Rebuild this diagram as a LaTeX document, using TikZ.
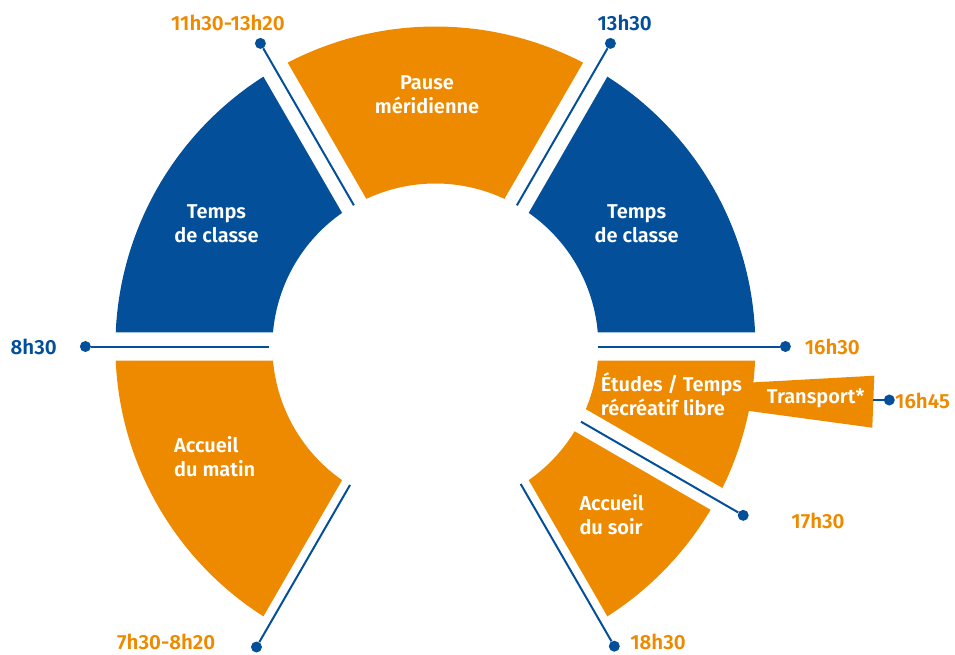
\documentclass[tikz,border=0pt]{standalone}
\usepackage{fontspec}
\setmainfont{Fira Sans}[BoldFont={Fira Sans SemiBold}]
\usetikzlibrary{calc}
\definecolor{bleuecole}{HTML}{034F9A}
\definecolor{orangeecole}{HTML}{EE8A00}
\tikzset{
  point/.style={circle, fill=bleuecole, inner sep=0pt, minimum size=11pt},
  trait/.style={draw=bleuecole, line width=2pt},
  etiquette/.style={text=white, inner sep=0pt, font=\bfseries\fontsize{20}{24}\selectfont, align=center},
  heure/.style={inner sep=0pt, font=\bfseries\fontsize{20.5}{22}\selectfont},
}
\begin{document}
\begin{tikzpicture}[x=1pt, y=1pt]
\useasboundingbox (-435.4,-307.5) rectangle (519.6,346.5);
% secteurs de l'anneau
\fill[bleuecole] (122.51:320) arc[start angle=122.51, end angle=177.49, radius=320] -- (175.07:163) arc[start angle=175.07, end angle=124.93, radius=163] -- cycle;
\fill[orangeecole] (62.51:320) arc[start angle=62.51, end angle=117.49, radius=320] -- (115.07:163) arc[start angle=115.07, end angle=64.93, radius=163] -- cycle;
\fill[bleuecole] (2.51:320) arc[start angle=2.51, end angle=57.49, radius=320] -- (55.07:163) arc[start angle=55.07, end angle=4.93, radius=163] -- cycle;
\fill[orangeecole] (182.51:320) arc[start angle=182.51, end angle=237.49, radius=320] -- (235.07:163) arc[start angle=235.07, end angle=184.93, radius=163] -- cycle;
\fill[orangeecole] (-26.24:320) arc[start angle=-26.24, end angle=-2.51, radius=320] -- (-4.93:163) arc[start angle=-4.93, end angle=-22.60, radius=163] -- cycle;
\fill[orangeecole] (-57.49:320) arc[start angle=-57.49, end angle=-30.68, radius=320] -- (-31.34:163) arc[start angle=-31.34, end angle=-55.07, radius=163] -- cycle;
% transport
\fill[orangeecole] (304.6,-36.6) -- (438.9,-29.2) -- (436.9,-81.2) -- (304.6,-63.2) -- cycle;
% textes des secteurs
\node[etiquette] (classe1) at (-218.9,122.5) {Temps\\de classe};
\node[etiquette] (pause) at (-8.4,252) {Pause\\méridienne};
\node[etiquette] (classe2) at (201.3,122.5) {Temps\\de classe};
\node[etiquette, anchor=west, align=left] (matin) at (-261.4,-109.8) {Accueil\\du matin};
\node[etiquette, anchor=west, align=left] (etudes) at (165.3,-48) {Études / Temps\\récréatif libre};
\node[etiquette, anchor=west, align=left] (soir) at (143.9,-168) {Accueil\\du soir};
\node[etiquette] (transport) at (380.3,-51.8) {Transport*};
% repères horaires
\coordinate (a830) at (180:166);
\coordinate (a1130) at (120:163);
\coordinate (a1330) at (60:163);
\coordinate (a1630) at (0:163);
\coordinate (a1645) at (437.9,-53.5);
\coordinate (a1730) at ($(-30:163.7)+(60:7.7)$);
\coordinate (a1830) at ($(-60:161.7)+(30:5.1)$);
\coordinate (a730) at ($(240:162.6)+(150:4.7)$);
\node[point] (p830) at (180:350) {};
\node[point] (p1130) at (120:350) {};
\node[point] (p1330) at (60:350) {};
\node[point] (p1630) at (0:350) {};
\node[point] (p1645) at (453.9,-53.5) {};
\node[point] (p1730) at ($(-30:351)+(60:7.7)$) {};
\node[point] (p1830) at ($(-60:349)+(30:5.1)$) {};
\node[point] (p730) at ($(240:349.7)+(150:4.7)$) {};
\draw[trait] (a830) -- (p830);
\draw[trait] (a1130) -- (p1130);
\draw[trait] (a1330) -- (p1330);
\draw[trait] (a1630) -- (p1630);
\draw[trait] (a1645) -- (p1645);
\draw[trait] (a1730) -- (p1730);
\draw[trait] (a1830) -- (p1830);
\draw[trait] (a730) -- (p730);
\node[heure, bleuecole] (h830) at (-401.7,-0.2) {8h30};
\node[heure, orangeecole] (h1130) at (-207.4,323.2) {11h30-13h20};
\node[heure, bleuecole] (h1330) at (189.3,323.2) {13h30};
\node[heure, orangeecole] (h1630) at (396.9,-0.2) {16h30};
\node[heure, orangeecole, anchor=west] (h1645) at (459.6,-54.5) {16h45};
\node[heure, orangeecole] (h1730) at (382.6,-174.5) {17h30};
\node[heure, orangeecole] (h1830) at (222.6,-295.5) {18h30};
\node[heure, orangeecole] (h730) at (-269.1,-295.5) {7h30-8h20};
\end{tikzpicture}
\end{document}
